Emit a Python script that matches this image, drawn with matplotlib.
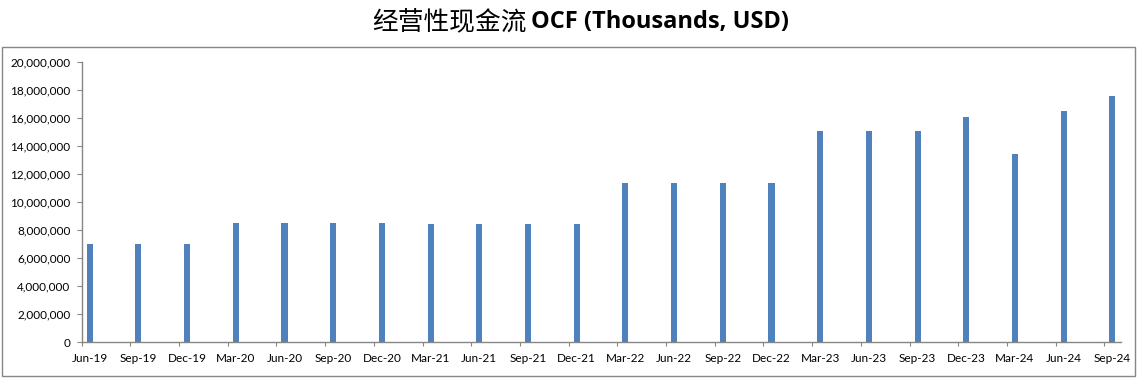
import matplotlib
matplotlib.use("Agg")
import matplotlib.pyplot as plt
from matplotlib.patches import Rectangle
from matplotlib.ticker import FuncFormatter

# quarterly operating cash flow, thousands USD
quarters = ["Jun-19", "Sep-19", "Dec-19", "Mar-20", "Jun-20", "Sep-20", "Dec-20",
            "Mar-21", "Jun-21", "Sep-21", "Dec-21", "Mar-22", "Jun-22", "Sep-22",
            "Dec-22", "Mar-23", "Jun-23", "Sep-23", "Dec-23", "Mar-24", "Jun-24",
            "Sep-24"]
ocf = [7000000, 7000000, 7000000, 8520000, 8520000, 8520000, 8520000,
       8450000, 8450000, 8450000, 8450000, 11380000, 11380000, 11380000,
       11380000, 15070000, 15070000, 15070000, 16100000, 13450000, 16540000,
       17600000]

W, H = 1145, 379
fig = plt.figure(figsize=(W / 100, H / 100), dpi=100)
ax = fig.add_axes([81.7 / W, 1 - 342.3 / H, (1120.7 - 81.7) / W, (342.3 - 62.3) / H])

bar_color = "#4F81BD"
axis_color = "#868686"
x = list(range(len(quarters)))
ax.bar(x, ocf, width=0.125, color=bar_color, zorder=2)

off = 0.165  # ticks sit a little left of each bar
ax.set_xlim(-off, len(quarters) - 1 - off + 0.337)
ax.set_ylim(0, 20000000)
ax.set_yticks(range(0, 20000001, 2000000))
ax.yaxis.set_major_formatter(FuncFormatter(lambda v, p: f"{int(v):,}"))

ax.set_xticks([i - off for i in x])
ax.set_xticklabels([])
ax.set_xticks(x, minor=True)
ax.set_xticklabels(quarters, minor=True)

for s in ["top", "right"]:
    ax.spines[s].set_visible(False)
for s in ["left", "bottom"]:
    ax.spines[s].set_color(axis_color)
    ax.spines[s].set_linewidth(1.0)

ax.tick_params(axis="y", which="major", direction="out", length=3.6, width=0.8,
               color=axis_color, pad=4.5, labelsize=8.5)
ax.tick_params(axis="x", which="major", direction="out", length=3, width=0.8,
               color=axis_color)
ax.tick_params(axis="x", which="minor", length=0, pad=8, labelsize=8.5)
for lab in ax.get_yticklabels() + ax.get_xticklabels(minor=True):
    lab.set_family("Lato")

fig.text(527 / W, 1 - 22 / H, "经营性现金流", ha="right", va="center",
         fontsize=18.5, family=["Noto Sans CJK SC", "DejaVu Sans"])
fig.text(531 / W, 1 - 22 / H, "OCF (Thousands, USD)", ha="left", va="center",
         fontsize=17, fontweight="bold", family="Open Sans")

fig.patches.append(Rectangle((1.5 / W, 1 - 376 / H), (1135 - 1.5) / W, (376 - 47) / H,
                             transform=fig.transFigure, fill=False,
                             edgecolor=axis_color, linewidth=1.0))

fig.savefig("out.png", dpi=100)
